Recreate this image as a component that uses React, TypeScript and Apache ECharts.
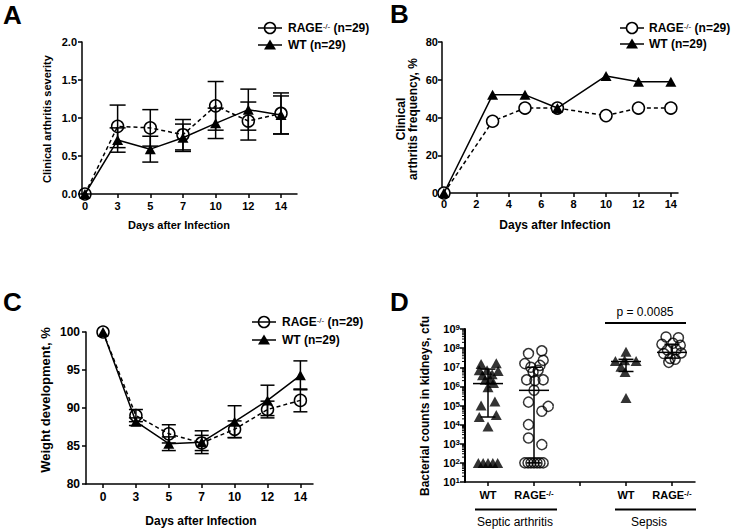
import React, { useEffect, useRef } from 'react';
import * as echarts from 'echarts';

const FONT = 'Arial, "Liberation Sans", Helvetica, sans-serif';

// ---------- shared ----------
const dayLabels = ['0', '3', '5', '7', '10', '12', '14'];
const dayIndex = [0, 1, 2, 3, 4, 5, 6];
const daysNumeric = [0, 3, 5, 7, 10, 12, 14];
const freqTicks = [0, 2, 4, 6, 8, 10, 12, 14];
const rageLegend = 'RAGE-/- (n=29)';
const wtLegend = 'WT (n=29)';
const xTitle = 'Days after Infection';

// ---------- A: clinical arthritis severity ----------
const sevRageMean = [0, 0.89, 0.87, 0.78, 1.16, 0.96, 1.06];
const sevRageSem = [0, 0.28, 0.24, 0.2, 0.32, 0.25, 0.27];
const sevWtMean = [0, 0.71, 0.59, 0.74, 0.93, 1.11, 1.04];
const sevWtSem = [0, 0.16, 0.17, 0.18, 0.2, 0.27, 0.25];

// ---------- B: clinical arthritis frequency ----------
const freqRage = [0, 38, 45, 45, 41, 45, 45];
const freqWt = [0, 52, 52, 45, 62, 59, 59];

// ---------- C: weight development ----------
const weightRageMean = [100, 89.0, 86.6, 85.4, 87.2, 89.8, 91.0];
const weightRageSem = [0, 0.8, 1.2, 1.0, 1.1, 1.1, 1.5];
const weightWtMean = [100, 88.2, 85.3, 85.5, 88.2, 91.0, 94.3];
const weightWtSem = [0, 0.5, 0.9, 1.5, 2.1, 2.0, 1.9];

// ---------- D: bacterial counts ----------
const dCategories = ['WT', 'RAGE-/-', '', 'WT', 'RAGE-/-'];
const dGroups = ['Septic arthritis', 'Sepsis'];
const pValueText = 'p = 0.0085';

const septicWtCounts = [1.5e7, 1.6e7, 7e6, 6.3e6, 3.8e6, 4.3e6, 2.2e6, 2.2e6, 9e5, 7e6, 1.5e6, 1e5, 1.6e5, 2.5e4, 3.2e4, 8e3, 100, 100, 100, 100, 100];
const septicWtJitter = [-0.15, 0.18, -0.19, 0.22, -0.12, 0.09, -0.06, 0.05, 0, -0.02, 0.12, -0.15, 0.15, -0.19, 0.18, 0, -0.21, -0.105, 0, 0.105, 0.21];

const septicRageCounts = [5.2e7, 7.2e7, 1.55e7, 2.3e7, 1e7, 1.25e7, 5.6e6, 7e6, 2.2e6, 2e6, 2.2e6, 6.3e5, 1.5e5, 9e4, 5e4, 1e4, 2e3, 9e2, 100, 100, 100, 100, 100, 100, 100];
const septicRageJitter = [-0.12, 0.17, -0.2, 0.2, -0.07, 0.13, -0.02, 0.09, -0.16, 0.02, 0.2, 0, -0.12, 0.31, 0.17, -0.12, -0.12, 0.17, -0.2, -0.13, -0.066, 0, 0.066, 0.13, 0.2];

const sepsisWtCounts = [6.5e7, 2.1e7, 2.1e7, 2.3e7, 1.05e7, 5.6e6, 2.5e5];
const sepsisWtJitter = [0, -0.23, 0.22, -0.03, -0.11, -0.02, 0];

const sepsisRageCounts = [3.8e8, 3.5e8, 1.6e8, 1.8e8, 1.4e8, 8e7, 8.3e7, 5.2e7, 5.6e7, 2.9e7, 2.6e7, 1.8e7];
const sepsisRageJitter = [-0.13, 0.14, -0.22, 0.02, 0.18, -0.1, 0.09, -0.18, 0.2, -0.04, 0.07, -0.07];

const dMedian = [1.4e6, 6.2e5, null, 2e7, 6e7];
const dLowerQ = [2.5e4, 100, null, 6e6, 3e7];
const dUpperQ = [8e6, 1e7, null, 2.6e7, 1.6e8];

// ---------- helpers ----------
const black = '#000';
const supRich = (size: number, weight: string) => ({
  sup: { fontSize: size, fontWeight: weight, fontFamily: FONT, color: black, verticalAlign: 'top', lineHeight: 8 },
});
const withSup = (s: string) => s.replace('-/-', '{sup|-/-}');

const axisLine = { show: true, onZero: false, lineStyle: { color: black, width: 1.5 } };
const axisTick = (extra: any = {}) => ({ show: true, inside: false, length: 4, lineStyle: { color: black, width: 1.5 }, ...extra });
const labelBase = { color: black, fontFamily: FONT, fontWeight: 'bold', fontSize: 11 };

const errorBarRender = (capHalf: number) => (params: any, api: any) => {
  const x = api.value(0);
  const lo = api.value(1);
  const hi = api.value(2);
  const a = api.coord([x, lo]);
  const b = api.coord([x, hi]);
  const st = { stroke: black, lineWidth: 1.5 };
  return {
    type: 'group',
    children: [
      { type: 'line', shape: { x1: a[0], y1: a[1], x2: b[0], y2: b[1] }, style: st },
      { type: 'line', shape: { x1: a[0] - capHalf, y1: a[1], x2: a[0] + capHalf, y2: a[1] }, style: st },
      { type: 'line', shape: { x1: b[0] - capHalf, y1: b[1], x2: b[0] + capHalf, y2: b[1] }, style: st },
    ],
  };
};

const errData = (means: number[], sems: number[]) =>
  dayIndex.filter((i) => sems[i] > 0).map((i) => [i, means[i] - sems[i], means[i] + sems[i]]);

const rageLine = (xi: number, data: any[], fill: string) => ({
  type: 'line',
  name: rageLegend,
  xAxisIndex: xi,
  yAxisIndex: xi,
  data,
  symbol: 'circle',
  symbolSize: 12,
  itemStyle: { color: fill, borderColor: black, borderWidth: 1.5 },
  lineStyle: { color: black, width: 1.5, type: [4, 3] },
  z: 3,
});
const wtLine = (xi: number, data: any[]) => ({
  type: 'line',
  name: wtLegend,
  xAxisIndex: xi,
  yAxisIndex: xi,
  data,
  symbol: 'triangle',
  symbolSize: [11, 10],
  itemStyle: { color: black },
  lineStyle: { color: black, width: 1.5 },
  z: 4,
});
const errSeries = (xi: number, data: any[], capHalf: number) => ({
  type: 'custom',
  xAxisIndex: xi,
  yAxisIndex: xi,
  data,
  encode: { x: 0, y: [1, 2] },
  renderItem: errorBarRender(capHalf),
  z: 2,
});

const legendGraphic = (cx: number, y1: number, y2: number, tx: number, fill: string) => {
  const st = { stroke: black, lineWidth: 1.5 };
  const txt = { fontFamily: FONT, fontWeight: 'bold', fontSize: 12, fill: black, verticalAlign: 'middle', align: 'left' };
  return [
    { type: 'line', shape: { x1: cx - 12, y1, x2: cx + 12, y2: y1 }, style: st },
    { type: 'circle', shape: { cx, cy: y1, r: 5.5 }, style: { fill, stroke: black, lineWidth: 1.5 } },
    { type: 'text', x: tx, y: y1, style: { ...txt, text: withSup(rageLegend), rich: supRich(8, 'normal') } },
    { type: 'line', shape: { x1: cx - 12, y1: y2, x2: cx + 12, y2 }, style: st },
    { type: 'polygon', shape: { points: [[cx, y2 - 5.5], [cx + 6, y2 + 4.5], [cx - 6, y2 + 4.5]] }, style: { fill: black } },
    { type: 'text', x: tx, y: y2, style: { ...txt, text: wtLegend } },
  ];
};

const titleText = (text: string, x: number, y: number, rotate = false, extra: any = {}) => ({
  type: 'text',
  x,
  y,
  rotation: rotate ? Math.PI / 2 : 0,
  style: { text, fontFamily: FONT, fontWeight: 'bold', fontSize: 11, fill: black, align: 'center', verticalAlign: 'middle', ...extra },
});

const panelLetter = (text: string, x: number, y: number) => ({
  type: 'text',
  x,
  y,
  style: { text, fontFamily: FONT, fontWeight: 'bold', fontSize: 26, fill: black, align: 'left', verticalAlign: 'middle' },
});

const minorTickValues: number[] = [];
for (let e = 1; e < 9; e++) for (let k = 2; k <= 9; k++) minorTickValues.push(k * Math.pow(10, e));

function buildOption() {
  const scatterD = (idx: number, counts: number[], jitter: number[], tri: boolean) => ({
    type: 'scatter',
    xAxisIndex: 3,
    yAxisIndex: 3,
    data: counts.map((v, i) => [idx + jitter[i], v]),
    symbol: tri ? 'triangle' : 'circle',
    symbolSize: tri ? [11, 10] : 10,
    itemStyle: tri ? { color: black } : { color: 'rgba(0,0,0,0)', borderColor: black, borderWidth: 1.5 },
    z: 3,
  });

  const summaryData = dMedian
    .map((m, i) => (m == null ? null : [i, m, dLowerQ[i], dUpperQ[i]]))
    .filter((d) => d != null);

  return {
    animation: false,
    backgroundColor: '#fff',
    grid: [
      { left: 82, top: 42, width: 215, height: 152 },
      { left: 442, top: 42, width: 236, height: 151 },
      { left: 86, top: 332, width: 227, height: 152 },
      { left: 465, top: 329, width: 230, height: 153 },
    ],
    xAxis: [
      {
        gridIndex: 0, type: 'value', min: -0.09, max: 6.49,
        axisLine, axisTick: axisTick({ customValues: dayIndex }),
        axisLabel: { ...labelBase, margin: 6, customValues: dayIndex, formatter: (v: number) => dayLabels[Math.round(v)] ?? '' },
        splitLine: { show: false },
      },
      {
        gridIndex: 1, type: 'value', min: -0.12, max: 14.44,
        axisLine, axisTick: axisTick({ customValues: freqTicks }),
        axisLabel: { ...labelBase, margin: 5, customValues: freqTicks },
        splitLine: { show: false },
      },
      {
        gridIndex: 2, type: 'value', min: -0.517, max: 6.383,
        axisLine, axisTick: axisTick({ customValues: dayIndex }),
        axisLabel: { ...labelBase, fontSize: 12, margin: 7, customValues: dayIndex, formatter: (v: number) => dayLabels[Math.round(v)] ?? '' },
        splitLine: { show: false },
      },
      {
        gridIndex: 3, type: 'value', min: -0.5, max: 4.5,
        axisLine, axisTick: axisTick({ customValues: [0, 1, 2, 3, 4] }),
        axisLabel: {
          ...labelBase, margin: 7, customValues: [0, 1, 2, 3, 4],
          formatter: (v: number) => withSup(dCategories[Math.round(v)] ?? ''),
          rich: supRich(8, 'bold'),
        },
        splitLine: { show: false },
      },
    ],
    yAxis: [
      {
        gridIndex: 0, type: 'value', min: 0, max: 2, interval: 0.5,
        axisLine, axisTick: axisTick(),
        axisLabel: { ...labelBase, margin: 5, formatter: (v: number) => v.toFixed(1) },
        splitLine: { show: false },
      },
      {
        gridIndex: 1, type: 'value', min: 0, max: 80, interval: 20,
        axisLine, axisTick: axisTick(),
        axisLabel: { ...labelBase, margin: 4 },
        splitLine: { show: false },
      },
      {
        gridIndex: 2, type: 'value', min: 80, max: 100, interval: 5,
        axisLine, axisTick: axisTick(),
        axisLabel: { ...labelBase, fontSize: 12, margin: 6 },
        splitLine: { show: false },
      },
      {
        gridIndex: 3, type: 'log', logBase: 10, min: 10, max: 1e9,
        axisLine: { ...axisLine, lineStyle: { color: black, width: 2 } }, axisTick: axisTick({ length: 5 }),
        axisLabel: {
          ...labelBase, margin: 5,
          formatter: (v: number) => '10{sup|' + Math.round(Math.log10(v)) + '}',
          rich: supRich(8, 'bold'),
        },
        splitLine: { show: false },
      },
    ],
    series: [
      // A
      errSeries(0, errData(sevRageMean, sevRageSem), 8),
      errSeries(0, errData(sevWtMean, sevWtSem), 8),
      rageLine(0, dayIndex.map((i) => [i, sevRageMean[i]]), 'rgba(0,0,0,0)'),
      wtLine(0, dayIndex.map((i) => [i, sevWtMean[i]])),
      // B
      rageLine(1, daysNumeric.map((d, i) => [d, freqRage[i]]), '#fff'),
      wtLine(1, daysNumeric.map((d, i) => [d, freqWt[i]])),
      // C
      errSeries(2, errData(weightRageMean, weightRageSem), 7),
      errSeries(2, errData(weightWtMean, weightWtSem), 7),
      rageLine(2, dayIndex.map((i) => [i, weightRageMean[i]]), 'rgba(0,0,0,0)'),
      wtLine(2, dayIndex.map((i) => [i, weightWtMean[i]])),
      // D
      scatterD(0, septicWtCounts, septicWtJitter, true),
      scatterD(1, septicRageCounts, septicRageJitter, false),
      scatterD(3, sepsisWtCounts, sepsisWtJitter, true),
      scatterD(4, sepsisRageCounts, sepsisRageJitter, false),
      {
        type: 'custom',
        xAxisIndex: 3,
        yAxisIndex: 3,
        data: summaryData,
        encode: { x: 0, y: [1, 2, 3] },
        z: 4,
        renderItem: (params: any, api: any) => {
          const x = api.value(0);
          const m = api.coord([x, api.value(1)]);
          const lo = api.coord([x, api.value(2)]);
          const hi = api.coord([x, api.value(3)]);
          const st = { stroke: black, lineWidth: 1.5 };
          return {
            type: 'group',
            children: [
              { type: 'line', shape: { x1: lo[0], y1: lo[1], x2: hi[0], y2: hi[1] }, style: st },
              { type: 'line', shape: { x1: m[0] - 15, y1: m[1], x2: m[0] + 15, y2: m[1] }, style: st },
              { type: 'line', shape: { x1: lo[0] - 7.5, y1: lo[1], x2: lo[0] + 7.5, y2: lo[1] }, style: st },
              { type: 'line', shape: { x1: hi[0] - 7.5, y1: hi[1], x2: hi[0] + 7.5, y2: hi[1] }, style: st },
            ],
          };
        },
      },
      {
        type: 'custom',
        xAxisIndex: 3,
        yAxisIndex: 3,
        data: minorTickValues.map((v) => [-0.5, v]),
        encode: { x: 0, y: 1 },
        clip: false,
        silent: true,
        renderItem: (params: any, api: any) => {
          const p = api.coord([api.value(0), api.value(1)]);
          return { type: 'line', shape: { x1: p[0] - 3, y1: p[1], x2: p[0], y2: p[1] }, style: { stroke: black, lineWidth: 1 } };
        },
      },
    ],
    graphic: {
      elements: [
        panelLetter('A', 3, 15),
        panelLetter('B', 390, 14),
        panelLetter('C', 3, 302),
        panelLetter('D', 390, 302),
        ...legendGraphic(270, 28, 45, 288, 'rgba(0,0,0,0)'),
        ...legendGraphic(632, 28, 44, 649, '#fff'),
        ...legendGraphic(264, 322, 340, 282, 'rgba(0,0,0,0)'),
        titleText('Clinical arthritis severity', 47, 119, true),
        titleText(xTitle, 179, 225),
        titleText('Clinical\narthritis frequency, %', 407, 119, true, { lineHeight: 12, fontSize: 12 }),
        titleText(xTitle, 555, 225, false, { fontSize: 12 }),
        titleText('Weight development, %', 45, 400, true, { fontSize: 13 }),
        titleText(xTitle, 201, 521, false, { fontSize: 12 }),
        titleText('Bacterial counts in kidneys, cfu', 425, 406, true, { fontSize: 12 }),
        // p-value bracket
        { type: 'line', shape: { x1: 605, y1: 323, x2: 686, y2: 323 }, style: { stroke: black, lineWidth: 2 } },
        titleText(pValueText, 645, 312, false, { fontWeight: 'normal', fontSize: 12 }),
        // group labels
        { type: 'line', shape: { x1: 475, y1: 509.5, x2: 557, y2: 509.5 }, style: { stroke: black, lineWidth: 2 } },
        titleText(dGroups[0], 515, 522, false, { fontWeight: 'normal', fontSize: 12 }),
        { type: 'line', shape: { x1: 615, y1: 509.5, x2: 696, y2: 509.5 }, style: { stroke: black, lineWidth: 2 } },
        titleText(dGroups[1], 649, 522, false, { fontWeight: 'normal', fontSize: 12 }),
      ],
    },
  };
}

export default function App() {
  const ref = useRef<HTMLDivElement>(null);
  useEffect(() => {
    const chart = echarts.init(ref.current as HTMLDivElement, null, { renderer: 'svg' });
    chart.setOption(buildOption() as any);
    return () => chart.dispose();
  }, []);
  return (
    <div
      ref={ref}
      style={{ position: 'absolute', left: 0, top: 0, width: 733, height: 530, background: '#fff' }}
    />
  );
}
